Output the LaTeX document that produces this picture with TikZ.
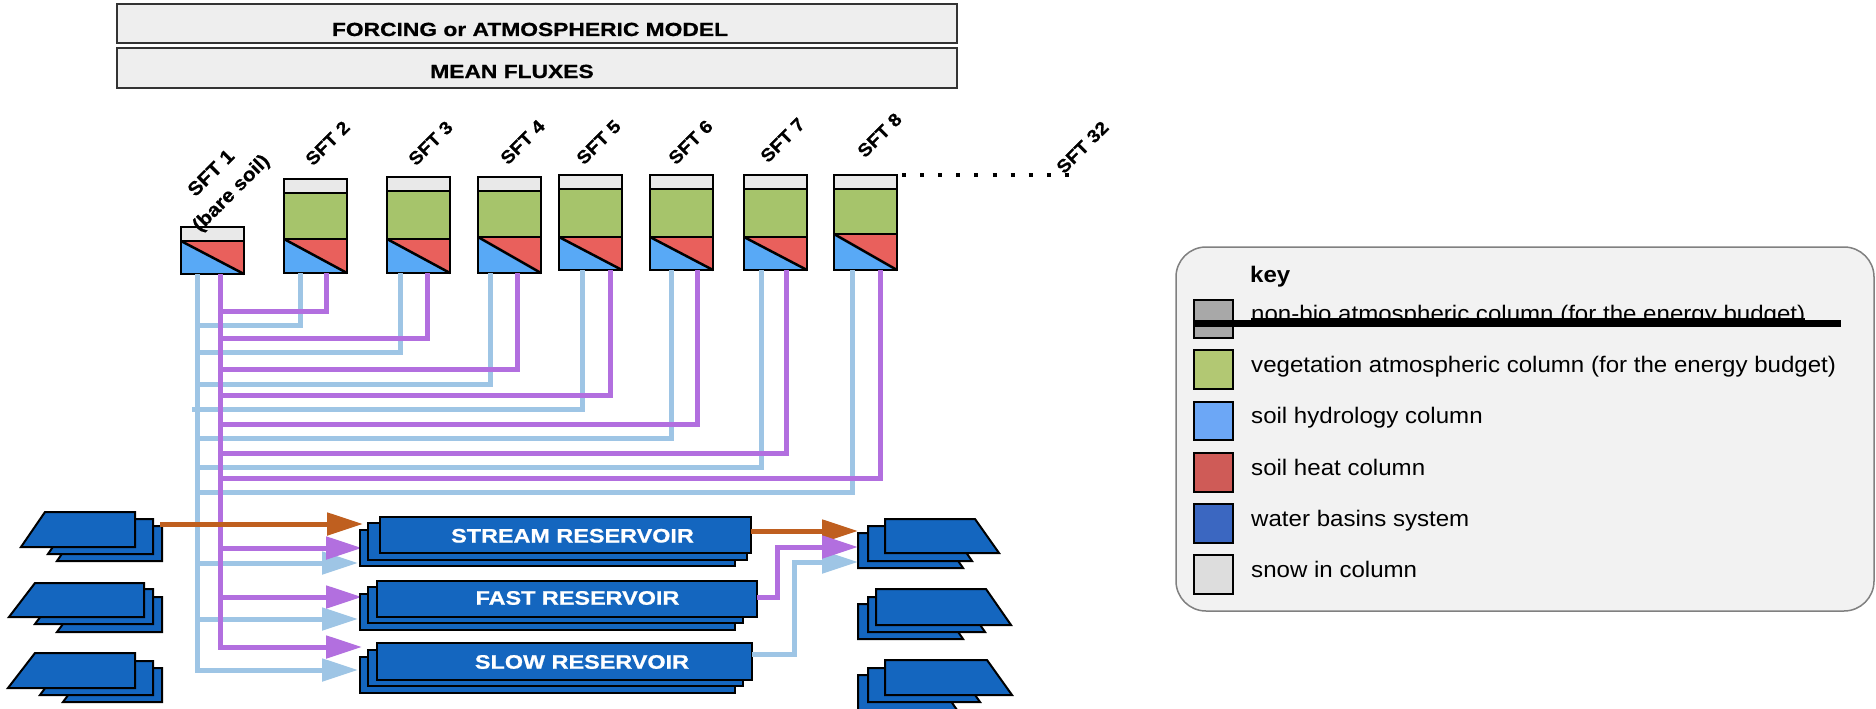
\documentclass[tikz,border=0pt]{standalone}
\usepackage{fontspec}
\setmainfont{Liberation Sans}
\newfontfamily\widesans[FakeStretch=1.2,BoldFeatures={FakeBold=0.8}]{Liberation Sans}
\newfontfamily\labsans[FakeStretch=1.1,BoldFeatures={FakeBold=0.6}]{Liberation Sans}
\newfontfamily\keysans[FakeStretch=1.07]{Liberation Sans}
\usetikzlibrary{arrows.meta}
\definecolor{csnow}{HTML}{E9E9E9}
\definecolor{cveg}{HTML}{A6C46B}
\definecolor{cheat}{HTML}{E9605C}
\definecolor{chydro}{HTML}{58A9F6}
\definecolor{lgray}{HTML}{A8A8A8}
\definecolor{lveg}{HTML}{B2C873}
\definecolor{lhydro}{HTML}{6CA7F6}
\definecolor{lheat}{HTML}{CF5B57}
\definecolor{lbasin}{HTML}{3B67C1}
\definecolor{lsnow}{HTML}{DDDDDD}
\definecolor{legfill}{HTML}{F2F2F2}
\definecolor{legborder}{HTML}{808080}
\definecolor{topfill}{HTML}{EEEEEE}
\definecolor{topline}{HTML}{333333}
\definecolor{basinblue}{HTML}{1466BF}
\definecolor{pblue}{HTML}{9EC5E5}
\definecolor{purp}{HTML}{B26FDF}
\definecolor{rust}{HTML}{BF5F1F}
\begin{document}
\begin{tikzpicture}[x=1pt,y=-1pt,
  topbox/.style={draw=topline,fill=topfill,line width=2pt,minimum width=840pt,minimum height=39pt,inner sep=0pt},
  toptext/.style={anchor=base,inner sep=0pt,font=\widesans\bfseries\fontsize{19}{22}\selectfont},
  sftlabel/.style={rotate=45,anchor=south west,inner sep=0pt,font=\labsans\bfseries\fontsize{18}{21}\selectfont},
  colline/.style={line width=2.5pt,draw=black},
  basin/.style={fill=basinblue,draw=black,line width=2pt,line join=miter},
  hyd/.style={draw=pblue,line width=5pt},
  heatflow/.style={draw=purp,line width=5pt},
  rivflow/.style={draw=rust,line width=5pt},
  flowtip/.style={-{Triangle[length=36pt,width=22pt]}},
  restext/.style={anchor=base,text=white,inner sep=0pt,font=\widesans\bfseries\fontsize{19.5}{22}\selectfont},
  legtext/.style={anchor=mid west,inner sep=0pt,font=\keysans\fontsize{22.5}{26}\selectfont},
  swatch/.style={draw=black,line width=1.5pt}
]
\useasboundingbox (0,0) rectangle (1876,709);
\fill[white] (0,0) rectangle (1876,709);

% top boxes
\node[topbox] (forcing) at (537,24) {};
\node[toptext] (forcingt) at (530,36) {FORCING or ATMOSPHERIC MODEL};
\node[topbox] (mean) at (537,68) {};
\node[toptext] (meant) at (512,78) {MEAN FLUXES};

% SFT 1 column (bare soil)
\fill[csnow] (181,227) rectangle (244,241);
\fill[cheat] (181,241) -- (244,241) -- (244,274) -- cycle;
\fill[chydro] (181,241) -- (181,274) -- (244,274) -- cycle;
\draw[colline] (181,227) rectangle (244,274);
\draw[colline] (181,241) -- (244,241);
\draw[colline] (181,241) -- (244,274);

% SFT 2..8 columns
\foreach \l/\t/\g/\b in {284/179/239/273, 387/177/239/273, 478/177/237/273, 559/175/237/270, 650/175/237/270, 744/175/237/270, 834/175/234/270}
{
  \fill[csnow] (\l,\t) rectangle (\l+63,\t+14);
  \fill[cveg] (\l,\t+14) rectangle (\l+63,\g);
  \fill[cheat] (\l,\g) -- (\l+63,\g) -- (\l+63,\b) -- cycle;
  \fill[chydro] (\l,\g) -- (\l,\b) -- (\l+63,\b) -- cycle;
  \draw[colline] (\l,\t) rectangle (\l+63,\b);
  \draw[colline] (\l,\t+14) -- (\l+63,\t+14);
  \draw[colline] (\l,\g) -- (\l+63,\g);
  \draw[colline] (\l,\g) -- (\l+63,\b);
}

% labels
\node[sftlabel,anchor=center,align=center,font=\labsans\bfseries\fontsize{19}{28}\selectfont] (sft1) at (222,184) {SFT 1\\(bare soil)};
\node[sftlabel] (sft2) at (313,167) {SFT 2};
\node[sftlabel] (sft3) at (416,167) {SFT 3};
\node[sftlabel] (sft4) at (508,166) {SFT 4};
\node[sftlabel] (sft5) at (584,166) {SFT 5};
\node[sftlabel] (sft6) at (676,166) {SFT 6};
\node[sftlabel] (sft7) at (768,164) {SFT 7};
\node[sftlabel] (sft8) at (865,159) {SFT 8};
\node[sftlabel] (sft32) at (1064,175) {SFT 32};
\coordinate (dotsa) at (902,175);
\coordinate (dotsb) at (1069,175);
\draw[line width=4pt,dash pattern=on 4pt off 14.1pt] (dotsa) -- (dotsb);

% connector end points
\coordinate (h1) at (197,274); \coordinate (q1) at (220,274);
\coordinate (h2) at (300,273); \coordinate (q2) at (326,273);
\coordinate (h3) at (400,273); \coordinate (q3) at (427,273);
\coordinate (h4) at (490,273); \coordinate (q4) at (517,273);
\coordinate (h5) at (582,270); \coordinate (q5) at (610,270);
\coordinate (h6) at (671,270); \coordinate (q6) at (697,270);
\coordinate (h7) at (761,270); \coordinate (q7) at (786,270);
\coordinate (h8) at (852,270); \coordinate (q8) at (880,270);
\coordinate (sin1) at (363,524); \coordinate (sin2) at (362,548); \coordinate (sin3) at (358,563);
\coordinate (fin2) at (362,597); \coordinate (fin3) at (358,619);
\coordinate (lin2) at (362,647); \coordinate (lin3) at (358,670);
\coordinate (lb1) at (160,524);
\coordinate (sout) at (751,531); \coordinate (fout) at (757,597); \coordinate (lout) at (752,654);
\coordinate (rin1) at (858,531); \coordinate (rin2) at (858,547); \coordinate (rin3) at (858,562);

% hydrology connectors
\draw[hyd] (h2) |- (197,325);
\draw[hyd] (h3) |- (197,352);
\draw[hyd] (h4) |- (197,384);
\draw[hyd] (h5) |- (192,409);
\draw[hyd] (h6) |- (197,438);
\draw[hyd] (h7) |- (197,467);
\draw[hyd] (h8) |- (197,492);
\draw[hyd,flowtip] (h1) |- (lin3);
\draw[hyd,flowtip] (h1 |- sin3) -- (sin3);
\draw[hyd,flowtip] (h1 |- fin3) -- (fin3);

% heat connectors
\draw[heatflow] (q2) |- (220,311);
\draw[heatflow] (q3) |- (220,338);
\draw[heatflow] (q4) |- (220,369);
\draw[heatflow] (q5) |- (220,395);
\draw[heatflow] (q6) |- (220,424);
\draw[heatflow] (q7) |- (220,453);
\draw[heatflow] (q8) |- (220,478);
\draw[heatflow,flowtip] (q1) |- (lin2);
\draw[heatflow,flowtip] (q1 |- sin2) -- (sin2);
\draw[heatflow,flowtip] (q1 |- fin2) -- (fin2);

% left basin stacks
\draw[basin] (57,561) -- (162,561) -- (162,526) -- (81,526) -- cycle;
\draw[basin] (48,554) -- (153,554) -- (153,519) -- (72,519) -- cycle;
\draw[basin] (21,547) -- (135,547) -- (135,512) -- (45,512) -- cycle;
\draw[basin] (57,632) -- (162,632) -- (162,597) -- (83,597) -- cycle;
\draw[basin] (35,624) -- (153,624) -- (153,589) -- (61,589) -- cycle;
\draw[basin] (9,617) -- (144,617) -- (144,583) -- (35,583) -- cycle;
\draw[basin] (63,702) -- (162,702) -- (162,668) -- (88,668) -- cycle;
\draw[basin] (40,695) -- (153,695) -- (153,661) -- (65,661) -- cycle;
\draw[basin] (8,688) -- (135,688) -- (135,653) -- (35,653) -- cycle;

% reservoirs
\draw[basin] (360,530) rectangle (735,566);
\draw[basin] (368,523) rectangle (747,560);
\draw[basin] (380,517) rectangle (751,553);
\node[restext] (stream) at (572.5,542.5) {STREAM RESERVOIR};
\draw[basin] (360,594) rectangle (735,630);
\draw[basin] (368,587) rectangle (743,623);
\draw[basin] (377,581) rectangle (757,617);
\node[restext] (fast) at (577.5,604.7) {FAST RESERVOIR};
\draw[basin] (360,657) rectangle (735,693);
\draw[basin] (368,650) rectangle (743,686);
\draw[basin] (377,643) rectangle (752,680);
\node[restext] (slow) at (582,668.7) {SLOW RESERVOIR};

% right basin stacks
\draw[basin] (858,533) -- (939,533) -- (963,568) -- (858,568) -- cycle;
\draw[basin] (868,526) -- (948,526) -- (972,561) -- (868,561) -- cycle;
\draw[basin] (885,519) -- (975,519) -- (999,553) -- (885,553) -- cycle;
\draw[basin] (858,604) -- (939,604) -- (963,639) -- (858,639) -- cycle;
\draw[basin] (868,597) -- (961,597) -- (985,632) -- (868,632) -- cycle;
\draw[basin] (876,589) -- (986,589) -- (1011,625) -- (876,625) -- cycle;
\draw[basin] (858,675) -- (933,675) -- (957,710) -- (858,710) -- cycle;
\draw[basin] (868,668) -- (956,668) -- (980,702) -- (868,702) -- cycle;
\draw[basin] (885,660) -- (987,660) -- (1012,695) -- (885,695) -- cycle;

% stream flows
\draw[rivflow,flowtip] (lb1) -- (sin1);
\draw[hyd,flowtip] (lout) -| (794,562) -- (rin3);
\draw[rivflow,flowtip] (sout) -- (rin1);
\draw[heatflow,flowtip] (fout) -| (777,547) -- (rin2);

% legend
\draw[draw=legborder,fill=legfill,line width=1.5pt,rounded corners=30pt] (1176,247) rectangle (1874,611);
\node[anchor=base west,inner sep=0pt,font=\keysans\bfseries\fontsize{22.5}{26}\selectfont] (keyt) at (1250,282) {key};
\draw[swatch,fill=lgray] (1194,300) rectangle (1233,338);
\draw[swatch,fill=lveg] (1194,350) rectangle (1233,389);
\draw[swatch,fill=lhydro] (1194,402) rectangle (1233,440);
\draw[swatch,fill=lheat] (1194,453) rectangle (1233,492);
\draw[swatch,fill=lbasin] (1194,504) rectangle (1233,543);
\draw[swatch,fill=lsnow] (1194,555) rectangle (1233,594);
\node[legtext] (nonbio) at (1251,319) {non-bio atmospheric column (for the energy budget)};
\draw[line width=1.2pt] (nonbio.mid west) -- (nonbio.mid east);
\coordinate (stra) at (1195,323);
\coordinate (strb) at (1841,323);
\draw[line width=7pt] (stra) -- (strb);
\node[legtext] (vegt) at (1251,369.5) {vegetation atmospheric column (for the energy budget)};
\node[legtext] (hydt) at (1251,421) {soil hydrology column};
\node[legtext] (heatt) at (1251,472.5) {soil heat column};
\node[legtext] (basint) at (1251,523.5) {water basins system};
\node[legtext] (snowt) at (1251,574.5) {snow in column};
\end{tikzpicture}
\end{document}
